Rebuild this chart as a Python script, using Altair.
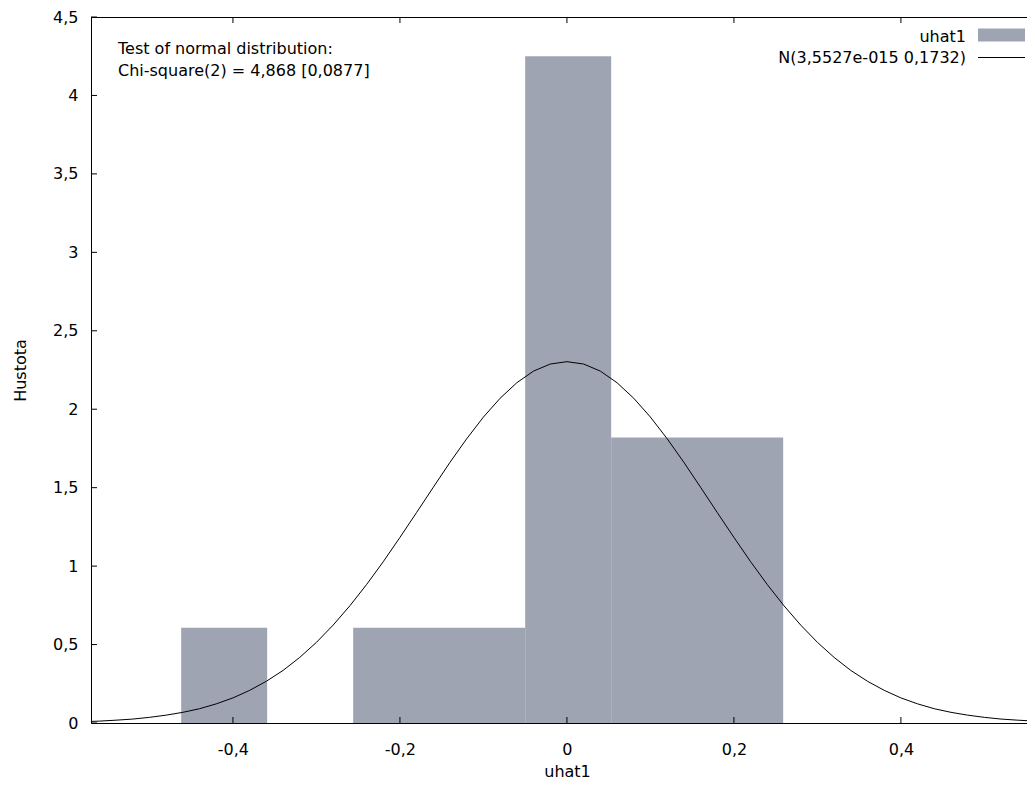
import altair as alt
import pandas as pd

# ---- data (adjacent equal-height bins drawn as one block) ----
bin_start = [-0.462, -0.256, -0.050, 0.053]
bin_end = [-0.359, -0.050, 0.053, 0.259]
bin_density = [0.607, 0.607, 4.25, 1.82]

curve_x = [-0.58, -0.56, -0.54, -0.52, -0.50, -0.48, -0.46, -0.44, -0.42, -0.40,
           -0.38, -0.36, -0.34, -0.32, -0.30, -0.28, -0.26, -0.24, -0.22, -0.20,
           -0.18, -0.16, -0.14, -0.12, -0.10, -0.08, -0.06, -0.04, -0.02, 0.00,
           0.02, 0.04, 0.06, 0.08, 0.10, 0.12, 0.14, 0.16, 0.18, 0.20,
           0.22, 0.24, 0.26, 0.28, 0.30, 0.32, 0.34, 0.36, 0.38, 0.40,
           0.42, 0.44, 0.46, 0.48, 0.50, 0.52, 0.54, 0.56, 0.58]
curve_y = [0.008, 0.012, 0.018, 0.025, 0.036, 0.050, 0.068, 0.091, 0.122, 0.160,
           0.208, 0.266, 0.335, 0.418, 0.514, 0.624, 0.747, 0.882, 1.028, 1.183,
           1.342, 1.503, 1.662, 1.812, 1.950, 2.070, 2.169, 2.243, 2.288, 2.303,
           2.288, 2.243, 2.169, 2.070, 1.950, 1.812, 1.662, 1.503, 1.342, 1.183,
           1.028, 0.882, 0.747, 0.624, 0.514, 0.418, 0.335, 0.266, 0.208, 0.160,
           0.122, 0.091, 0.068, 0.050, 0.036, 0.025, 0.018, 0.012, 0.008]

x_ticks = [-0.4, -0.2, 0.0, 0.2, 0.4]
y_ticks = [0, 0.5, 1, 1.5, 2, 2.5, 3, 3.5, 4, 4.5]

series_name = "uhat1"
curve_name = "N(3,5527e-015 0,1732)"
test_lines = ["Test of normal distribution:", "Chi-square(2) = 4,868 [0,0877]"]
x_title = "uhat1"
y_title = "Hustota"

# ---- layout ----
W, H = 936, 706
FONT = "DejaVu Sans"
FS = 16
BAR_COLOR = "#9fa4b2"

xscale = alt.Scale(domain=[-0.570, 0.551], nice=False, zero=False)
yscale = alt.Scale(domain=[0, 4.5], nice=False, zero=False)

label_expr = "replace(replace(format(datum.value, '.1~f'), '.', ','), '\u2212', '-')"

bars_df = pd.DataFrame({"start": bin_start, "end": bin_end, "density": bin_density})
curve_df = pd.DataFrame({"x": curve_x, "y": curve_y})
xt_df = pd.DataFrame({"v": x_ticks})
yt_df = pd.DataFrame({"v": y_ticks})

bars = alt.Chart(bars_df).mark_rect(color=BAR_COLOR).encode(
    x=alt.X("start:Q", scale=xscale,
            axis=alt.Axis(values=x_ticks, labelExpr=label_expr, title=x_title,
                          ticks=False, tickSize=0, labelPadding=18, grid=False,
                          labelFlush=False, titleX=476, titleY=53,
                          titleBaseline="alphabetic", titleAlign="center")),
    x2="end:Q",
    y=alt.Y("density:Q", scale=yscale,
            axis=alt.Axis(values=y_ticks, labelExpr=label_expr, title=y_title,
                          ticks=False, tickSize=0, labelPadding=13, grid=False,
                          labelFlush=False, titleX=-66, titleY=353,
                          titleBaseline="alphabetic", titleAlign="center")),
    y2=alt.datum(0),
)

curve = alt.Chart(curve_df).mark_line(color="black", strokeWidth=1, clip=True).encode(
    x=alt.X("x:Q", scale=xscale),
    y=alt.Y("y:Q", scale=yscale),
)

top_border = alt.Chart(xt_df).mark_rule(color="black", strokeWidth=1).encode(
    x=alt.value(0), x2=alt.value(W), y=alt.value(0.5)
)

xt_bottom = alt.Chart(xt_df).mark_rule(color="black", strokeWidth=1).encode(
    x=alt.X("v:Q", scale=xscale), y=alt.value(H), y2=alt.value(H - 6)
)
xt_top = alt.Chart(xt_df).mark_rule(color="black", strokeWidth=1).encode(
    x=alt.X("v:Q", scale=xscale), y=alt.value(0), y2=alt.value(6)
)
yt_left = alt.Chart(yt_df).mark_rule(color="black", strokeWidth=1).encode(
    y=alt.Y("v:Q", scale=yscale), x=alt.value(0), x2=alt.value(6)
)

ann_df = pd.DataFrame({"t": test_lines, "yy": [37, 59]})
annot = alt.Chart(ann_df).mark_text(
    align="left", baseline="alphabetic", font=FONT, fontSize=FS, color="black"
).encode(text="t:N", x=alt.value(27), y=alt.Y("yy:Q", scale=None))

leg_df = pd.DataFrame({"t": [series_name, curve_name], "yy": [24.5, 46]})
leg_text = alt.Chart(leg_df).mark_text(
    align="right", baseline="alphabetic", font=FONT, fontSize=FS, color="black"
).encode(text="t:N", x=alt.value(875), y=alt.Y("yy:Q", scale=None))

leg_rect = alt.Chart(leg_df.iloc[:1]).mark_rect(color=BAR_COLOR).encode(
    x=alt.value(887), x2=alt.value(934), y=alt.value(11.5), y2=alt.value(24.5)
)
leg_line = alt.Chart(leg_df.iloc[1:]).mark_rule(color="black", strokeWidth=1).encode(
    x=alt.value(887), x2=alt.value(934), y=alt.value(40.5)
)

chart = alt.layer(
    bars, curve, top_border, xt_bottom, xt_top, yt_left, annot, leg_text, leg_rect, leg_line
).properties(
    width=W, height=H,
    autosize=alt.AutoSizeParams(type="none"),
    padding={"left": 83, "top": 9, "right": 0, "bottom": 57},
).configure_view(stroke=None).configure_axis(
    domainColor="black", domainWidth=1, labelFont=FONT, labelFontSize=FS,
    labelColor="black", titleFont=FONT, titleFontSize=FS, titleColor="black",
    titleFontWeight="normal",
)

chart.save("out.html", embed_options={"renderer": "svg", "actions": False})
